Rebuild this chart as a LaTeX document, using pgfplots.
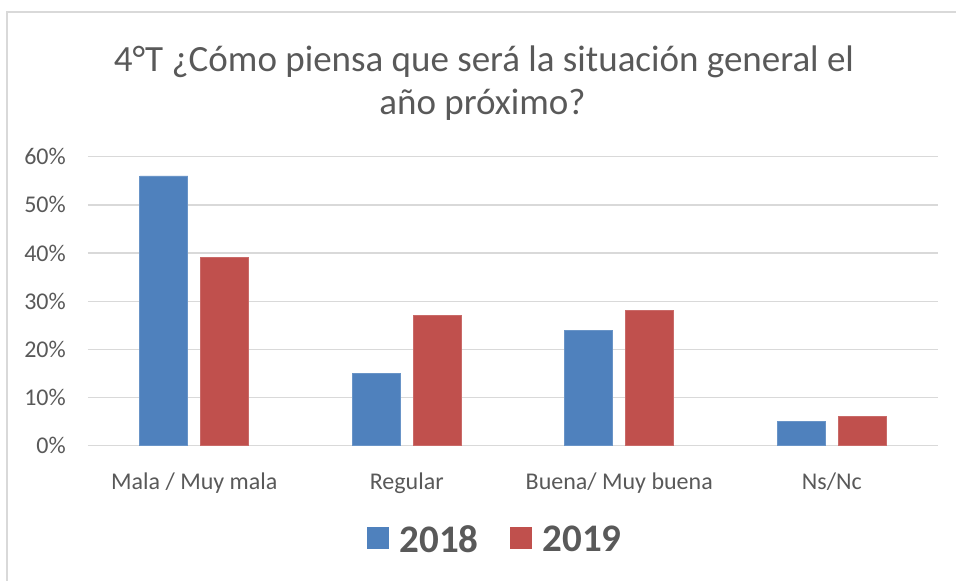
\documentclass[border=0pt]{standalone}
\usepackage{pgfplots}
\pgfplotsset{compat=1.18}
\usepackage{fontspec}
\setmainfont{Carlito}
\definecolor{c18}{HTML}{4F81BD}
\definecolor{c19}{HTML}{C0504D}
\definecolor{txt}{HTML}{595959}
\definecolor{grd}{HTML}{D9D9D9}
\begin{document}
\begin{tikzpicture}[x=1pt,y=1pt]
\path[use as bounding box] (0,0) rectangle (956,581);
\draw[grd, line width=2pt] (7.3,-5) -- (7.3,568.7) -- (970,568.7);
\node[anchor=base, font=\fontsize{37}{41}\selectfont, text=txt] at (484,509.3) {4°T ¿Cómo piensa que será la situación general el};
\node[anchor=base, font=\fontsize{37}{41}\selectfont, text=txt] at (482.5,466) {año próximo?};
\begin{axis}[
  at={(88pt,135.3pt)}, anchor=south west,
  scale only axis, width=850pt, height=289pt,
  ymin=0, ymax=60, xmin=-0.5, xmax=3.5,
  ybar=13pt, bar width=48pt,
  axis line style={draw=none},
  tick style={draw=none},
  ymajorgrids, major grid style={grd, line width=1.3pt},
  ytick={0,10,20,30,40,50,60},
  yticklabels={0\%,10\%,20\%,30\%,40\%,50\%,60\%},
  xtick={0,1,2,3},
  xticklabels={Mala / Muy mala, Regular, Buena/ Muy buena, Ns/Nc},
  tick label style={font=\fontsize{24}{28}\selectfont, text=txt},
  yticklabel style={anchor=east, inner sep=0pt, xshift=-22pt},
  xticklabel style={anchor=base, inner sep=0pt, yshift=-39.3pt},
  legend style={draw=none, fill=none, at={(0.479,-0.326)}, anchor=center,
    legend columns=2, font=\fontsize{39}{46}\selectfont\bfseries, text=txt,
    /tikz/every odd column/.append style={column sep=9pt},
    /tikz/every even column/.append style={column sep=29pt}},
  legend image code/.code={\fill[#1,draw=none] (0pt,-9pt) rectangle (22pt,13pt);},
]
\addplot[fill=c18, draw=c18!85!white, line width=0.8pt] coordinates {(0,56) (1,15) (2,24) (3,5)};
\addplot[fill=c19, draw=c19!85!white, line width=0.8pt] coordinates {(0,39) (1,27) (2,28) (3,6)};
\legend{2018,2019}
\end{axis}
\end{tikzpicture}
\end{document}
